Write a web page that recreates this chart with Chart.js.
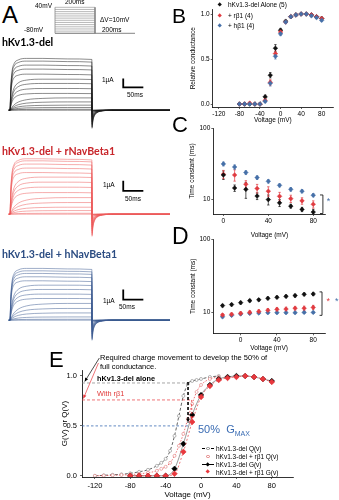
<!DOCTYPE html>
<html>
<head>
<meta charset="utf-8">
<title>hKv1.3-del with NavBeta1</title>
<script src="https://cdn.jsdelivr.net/npm/chart.js@4.4.1/dist/chart.umd.min.js"></script>
<style>
  body { margin: 0; background: #fff; }
  #fig { position: relative; width: 339px; height: 500px; overflow: hidden;
         font-family: "Liberation Sans", Arial, sans-serif; color: #000; }
  #fig canvas { position: absolute; }
  .t { position: absolute; white-space: nowrap; line-height: 1; }
  .head { font-family: Lato, "Open Sans", sans-serif; font-weight: 700; font-size: 10.6px; }
  .s { font-size: 6.5px; }
  .mk { position: absolute; width: 3.4px; height: 3.4px; transform: rotate(45deg); }
  .lg { position: absolute; left: 202px; width: 110px; height: 7px; font-size: 6.5px; line-height: 7px; white-space: nowrap; }
  .lg .ln { position: absolute; left: 0; width: 12px; top: 3px; height: 0; }
  .lg .o, .lg .d { position: absolute; left: 4.3px; top: 1.8px; width: 3.4px; height: 3.4px; box-sizing: border-box; }
  .lg .o { border-radius: 50%; border: 0.7px solid; background: #fff; }
  .lg .d { transform: rotate(45deg); }
  .lg .tx { position: absolute; left: 14px; top: 0; }
</style>
</head>
<body>
<div id="fig">
  <canvas id="proto" width="92" height="38" style="left:50px;top:0"></canvas>
  <canvas id="trAlone" width="170" height="95" style="left:0;top:45px"></canvas>
  <canvas id="trRb1" width="170" height="95" style="left:0;top:149px"></canvas>
  <canvas id="trHb1" width="170" height="95" style="left:0;top:255px"></canvas>
  <canvas id="gv" width="169" height="126" style="left:170px;top:0"></canvas>
  <canvas id="tauAct" width="169" height="128" style="left:170px;top:112px"></canvas>
  <canvas id="tauDeact" width="169" height="131" style="left:170px;top:222px"></canvas>
  <canvas id="gq" width="339" height="150" style="left:0;top:350px"></canvas>

  <!-- panel A -->
  <div class="t" style="left:2px;top:3px;font-size:24px">A</div>
  <div class="t s" style="left:35px;top:2.5px">40mV</div>
  <div class="t s" style="left:65px;top:-1px">200ms</div>
  <div class="t s" style="left:100px;top:17px">ΔV=10mV</div>
  <div class="t s" style="left:24px;top:27px">-80mV</div>
  <div class="t s" style="left:102px;top:27px">200ms</div>
  <div class="t head" style="left:2px;top:37px">hKv1.3-del</div>
  <div class="t s" style="left:102px;top:77px">1µA</div>
  <div class="t s" style="left:127px;top:92px">50ms</div>
  <div class="t head" style="left:2px;top:145.5px;color:#c8262b">hKv1.3-del + rNavBeta1</div>
  <div class="t s" style="left:103px;top:182px">1µA</div>
  <div class="t s" style="left:125px;top:196px">50ms</div>
  <div class="t head" style="left:2px;top:248.5px;color:#2b4c82">hKv1.3-del + hNavBeta1</div>
  <div class="t s" style="left:103px;top:298px">1µA</div>
  <div class="t s" style="left:119px;top:304px">50ms</div>

  <!-- panel B -->
  <div class="t" style="left:172px;top:5px;font-size:21px">B</div>
  <div class="mk" style="left:218.3px;top:3.3px;background:#111"></div>
  <div class="t s" style="left:228px;top:2px">hKv1.3-del Alone (5)</div>
  <div class="mk" style="left:218.3px;top:14.3px;background:#e03b40"></div>
  <div class="t s" style="left:228px;top:13px">+ rβ1 (4)</div>
  <div class="mk" style="left:218.3px;top:23.8px;background:#4670a8"></div>
  <div class="t s" style="left:228px;top:22.5px">+ hβ1 (4)</div>

  <div class="t" style="left:172px;top:114px;font-size:22px">C</div>
  <div class="t" style="left:172px;top:225px;font-size:23px">D</div>

  <!-- panel E -->
  <div class="t" style="left:49px;top:349px;font-size:22px">E</div>
  <div class="t" style="left:100px;top:354px;font-size:7.5px">Required charge movement to develop the 50% of</div>
  <div class="t" style="left:100px;top:363px;font-size:7.5px">full conductance.</div>
  <div class="t" style="left:97px;top:375px;font-size:7.3px;font-weight:bold">hKv1.3-del alone</div>
  <div class="t" style="left:97px;top:390px;font-size:7.3px;color:#e03a3a">With rβ1</div>
  <div class="t" style="left:198px;top:424px;font-size:11px;color:#3a6cb3">50%&nbsp; G<span style="font-size:7px;position:relative;top:3px">MAX</span></div>

  <div class="lg" style="top:445px"><span class="ln" style="border-top:0.8px dashed #000"></span><span class="o" style="border-color:#888"></span><span class="tx">hKv1.3-del Q(v)</span></div>
  <div class="lg" style="top:453px"><span class="o" style="border-color:#e07a7a"></span><span class="tx">hKv1.3-del + rβ1 Q(v)</span></div>
  <div class="lg" style="top:461px"><span class="ln" style="border-top:0.8px solid #000"></span><span class="d" style="background:#000"></span><span class="tx">hKv1.3-del G(v)</span></div>
  <div class="lg" style="top:468.5px"><span class="d" style="background:#e8383d"></span><span class="tx">hKv1.3-del + rβ1 G(v)</span></div>
</div>

<script>
// ---------- voltage protocol (mV, ms) ----------
const stepLevels = [-80, -70, -60, -50, -40, -30, -20, -10, 0, 10, 20, 30, 40];
const stepTime = [0, 200];
const holdTime = [0, 400];
const holdLevel = -80;

// ---------- current sweeps (µA vs ms) ----------
// activation time course, fraction of steady current; fast for strong steps, slow near threshold
const riseTime = [-3, 0, 2, 5, 10, 20, 40, 80, 140, 199.5];
const riseShapes = [
    [0, 0, 0.45, 0.75, 0.9, 0.97, 1.0, 1.0, 0.99, 0.98],
    [0, 0, 0.25, 0.5, 0.72, 0.88, 0.97, 1.0, 1.0, 0.99],
    [0, 0, 0.1, 0.25, 0.44, 0.66, 0.85, 0.96, 1.0, 1.0]
];
const sweepShape = [0, 0, 0, 0, 0, 1, 1, 1, 1, 2, 2, 2, 2, 2, 2];
const tailTime  = [200, 202, 206, 212, 220, 232, 250, 390];
const tailShape = [1, 0.6, 0.3, 0.14, 0.06, 0.02, 0, 0];

const aloneSteady = [5.56, 5.27, 4.84, 4.41, 3.87, 3.33, 2.87, 2.33, 1.8, 1.32, 0.89, 0.54, 0.29, 0.1, 0];
const aloneTail   = [1.94, 1.8, 1.62, 1.45, 1.26, 1.08, 0.9, 0.72, 0.54, 0.38, 0.24, 0.13, 0.06, 0.02, 0];
const rb1Steady   = [5.95, 5.73, 5.38, 4.95, 4.47, 3.98, 3.44, 2.9, 2.32, 1.78, 1.25, 0.75, 0.39, 0.1, 0];
const rb1Tail     = [2.37, 2.2, 2.0, 1.8, 1.6, 1.38, 1.16, 0.94, 0.72, 0.5, 0.32, 0.17, 0.07, 0.02, 0];
const hb1Steady   = [5.56, 5.3, 5.02, 4.66, 4.23, 3.76, 3.3, 2.8, 2.33, 1.8, 1.26, 0.78, 0.35, 0.1, 0];
const hb1Tail     = [2.15, 2.0, 1.85, 1.66, 1.46, 1.26, 1.06, 0.86, 0.66, 0.46, 0.3, 0.16, 0.06, 0.02, 0];

// scale bars: 1 µA / 50 ms
const barTime = [276, 276, 325];
const aloneBar = [3.4, 2.45, 2.45];
const rb1Bar = [3.58, 2.5, 2.5];
const hb1Bar = [3.3, 2.2, 2.2];

// ---------- B: relative conductance ----------
const bVolt = [-80, -70, -60, -50, -40, -30, -20, -10, 0, 10, 20, 30, 40, 50, 60, 70, 80];
const bAlone = [0, 0, 0, 0, 0, 0.08, 0.32, 0.62, 0.82, 0.92, 0.97, 0.99, 1.0, 1.0, 0.99, 0.97, 0.95];
const bAloneErr = [0.005, 0.005, 0.005, 0.005, 0.005, 0.02, 0.03, 0.04, 0.02, 0.01, 0.01, 0.01, 0.005, 0.005, 0.01, 0.01, 0.015];
const bRb1 = [0, 0, 0.01, 0, 0, 0.04, 0.24, 0.56, 0.8, 0.91, 0.97, 0.99, 1.0, 1.0, 0.99, 0.97, 0.95];
const bRb1Err = [0.005, 0.005, 0.01, 0.005, 0.005, 0.015, 0.03, 0.03, 0.02, 0.01, 0.01, 0.01, 0.005, 0.005, 0.01, 0.01, 0.015];
const bHb1 = [0, 0, 0, 0, 0, 0.03, 0.23, 0.53, 0.78, 0.91, 0.97, 0.99, 1.0, 1.0, 0.98, 0.96, 0.93];
const bHb1Err = [0.005, 0.005, 0.005, 0.005, 0.005, 0.015, 0.03, 0.03, 0.02, 0.01, 0.01, 0.01, 0.005, 0.005, 0.01, 0.01, 0.015];
const bXTicks = [-120, -80, -40, 0, 40, 80];
const bYTicks = [0, 0.5, 1.0];

// ---------- C: activation time constant (ms) ----------
const cVolt = [0, 10, 20, 30, 40, 50, 60, 70, 80];
const cAlone = [22, 14.4, 13.8, 11.1, 9.9, 8.9, 8.0, 7.2, 6.6];
const cAloneErr = [3, 1.5, 3.5, 1.2, 1.6, 1.0, 0.5, 0.5, 0.6];
const cRb1 = [22.5, 22, 16.3, 14.2, 13, 11, 10.2, 9.5, 8.5];
const cRb1Err = [3, 4, 2, 2, 2, 1.5, 1.2, 1, 1];
const cHb1 = [31.5, 28.5, 23.8, 20.2, 17.9, 15.7, 13.8, 13.0, 11.4];
const cHb1Err = [2, 2, 1.5, 1.2, 1, 0.8, 0.8, 0.7, 0.6];

// ---------- D: deactivation time constant (ms) ----------
const dVolt = [-20, -10, 0, 10, 20, 30, 40, 50, 60, 70, 80];
const dAlone = [12.5, 12.9, 13.7, 14.6, 15.0, 15.7, 16.2, 16.7, 17.1, 17.8, 18.0];
const dAloneErr = [0.5, 0.5, 0.6, 0.6, 0.6, 0.7, 0.7, 0.7, 0.8, 0.8, 0.9];
const dRb1 = [9.3, 9.5, 9.8, 10.1, 10.4, 10.8, 11.1, 11.2, 11.5, 11.5, 11.8];
const dRb1Err = [0.4, 0.4, 0.5, 0.5, 0.6, 0.6, 0.7, 0.7, 0.7, 0.8, 0.8];
const dHb1 = [8.8, 9.2, 9.6, 9.8, 9.9, 10.0, 10.0, 10.0, 10.0, 10.1, 10.1];
const dHb1Err = [0.3, 0.3, 0.3, 0.3, 0.3, 0.3, 0.3, 0.3, 0.3, 0.3, 0.3];
const tauXTicks = [0, 40, 80];
const tauYTicks = [10, 100];

// ---------- E: G(V) and Q(V) ----------
const eGVolt = [-80, -70, -60, -50, -40, -30, -20, -10, 0, 10, 20, 30, 40, 50, 60, 70, 80];
const eGAlone = [0, 0, 0, 0, 0, 0.07, 0.32, 0.61, 0.81, 0.91, 0.97, 0.99, 1.0, 1.0, 0.99, 0.97, 0.95];
const eGRb1 = [0, 0, 0, 0, 0, 0.02, 0.24, 0.54, 0.79, 0.9, 0.96, 0.98, 0.99, 1.0, 0.99, 0.97, 0.94];
const eQVolt = [-120, -110, -100, -90, -80, -70, -60, -50, -45, -40, -35, -30, -25, -20, -15, -10, -5, 0, 10, 20];
const eQAlone = [0, 0.005, 0.01, 0.015, 0.025, 0.04, 0.06, 0.1, 0.13, 0.17, 0.25, 0.4, 0.6, 0.8, 0.92, 0.95, 0.96, 0.97, 0.99, 1.0];
const eQRb1 = [0, 0.002, 0.005, 0.008, 0.012, 0.02, 0.03, 0.05, 0.07, 0.09, 0.13, 0.2, 0.3, 0.42, 0.57, 0.72, 0.84, 0.91, 0.97, 0.99];
const eXTicks = [-120, -80, -40, 0, 40, 80];
const eYTicks = [0, 0.5, 1.0];

const RED = '#e03b40', BLUE = '#4670a8', BLACK = '#111';

function pts(xs, ys) {
    return xs.map((x, i) => ({x: x, y: ys[i]}));
}

function sweep(steady, tail, shape) {
    const out = riseTime.map((t, i) => ({x: t, y: steady * shape[i]}));
    tailTime.forEach((t, i) => out.push({x: t, y: -tail * tailShape[i]}));
    return out;
}

// vertical error bars, drawn under the markers
const errorBars = {
    id: 'errorBars',
    beforeDatasetsDraw(chart) {
        const ctx = chart.ctx, ys = chart.scales.y;
        chart.data.datasets.forEach((ds, i) => {
            if (!ds.errors) return;
            const meta = chart.getDatasetMeta(i);
            ctx.save();
            ctx.strokeStyle = ds.pointBackgroundColor;
            ctx.lineWidth = 0.7;
            meta.data.forEach((el, j) => {
                const v = ds.data[j].y, e = ds.errors[j];
                if (!e) return;
                const top = ys.getPixelForValue(v + e);
                const bot = ys.getPixelForValue(Math.max(v - e, ys.min));
                ctx.beginPath();
                ctx.moveTo(el.x, top); ctx.lineTo(el.x, bot);
                ctx.moveTo(el.x - 1.2, top); ctx.lineTo(el.x + 1.2, top);
                ctx.moveTo(el.x - 1.2, bot); ctx.lineTo(el.x + 1.2, bot);
                ctx.stroke();
            });
            ctx.restore();
        });
    }
};

// brackets, guide lines, arrows and significance stars in data coordinates
function marks(lines, stars) {
    return {
        id: 'marks',
        afterDatasetsDraw(chart) {
            const ctx = chart.ctx, xs = chart.scales.x, ys = chart.scales.y;
            lines.forEach(m => {
                const p = m.x.map((x, k) => [xs.getPixelForValue(x), ys.getPixelForValue(m.y[k])]);
                ctx.save();
                ctx.strokeStyle = m.color;
                ctx.lineWidth = m.width || 0.8;
                ctx.setLineDash(m.dash || []);
                ctx.beginPath();
                p.forEach((q, k) => k ? ctx.lineTo(q[0], q[1]) : ctx.moveTo(q[0], q[1]));
                ctx.stroke();
                if (m.arrow) {
                    const a = p[p.length - 2], b = p[p.length - 1];
                    const ang = Math.atan2(b[1] - a[1], b[0] - a[0]), s = m.arrow;
                    ctx.setLineDash([]);
                    ctx.fillStyle = m.color;
                    ctx.beginPath();
                    ctx.moveTo(b[0], b[1]);
                    ctx.lineTo(b[0] - s * Math.cos(ang - 0.45), b[1] - s * Math.sin(ang - 0.45));
                    ctx.lineTo(b[0] - s * Math.cos(ang + 0.45), b[1] - s * Math.sin(ang + 0.45));
                    ctx.closePath();
                    ctx.fill();
                }
                ctx.restore();
            });
            (stars || []).forEach(s => {
                ctx.save();
                ctx.fillStyle = s.color;
                ctx.font = '9px "Liberation Sans"';
                ctx.textAlign = 'center';
                ctx.textBaseline = 'middle';
                ctx.fillText('*', xs.getPixelForValue(s.x), ys.getPixelForValue(s.y));
                ctx.restore();
            });
        }
    };
}

const baseOptions = {
    responsive: false,
    animation: false,
    events: [],
    plugins: {legend: {display: false}, tooltip: {enabled: false}}
};

function frameAxis(o) {
    const size = o.fontSize || 6.5;
    return {
        type: o.type || 'linear',
        min: o.min,
        max: o.max,
        afterBuildTicks: s => { s.ticks = o.ticks.map(v => ({value: v})); },
        afterFit: o.fit,
        grid: {drawOnChartArea: false, drawTicks: true, tickLength: 2, color: '#000', lineWidth: 0.6},
        border: {display: true, color: '#000', width: 0.8},
        ticks: {font: {family: 'Liberation Sans', size: size}, color: '#000', padding: o.pad || 1,
                maxRotation: 0, autoSkip: false, callback: o.format || (v => v)},
        title: {display: true, text: o.title, color: '#000',
                font: {family: 'Liberation Sans', size: o.titleSize || size},
                padding: o.titlePad}
    };
}

// ---------- A: protocol ----------
const protoSets = stepLevels.map(v => ({
    data: pts(stepTime, [v, v]), borderColor: '#8a8a8a', borderWidth: 0.6, pointRadius: 0
}));
protoSets.push({data: pts([0, 0], [holdLevel, 40]), borderColor: '#777', borderWidth: 0.7, pointRadius: 0});
protoSets.push({data: pts([200, 200], [40, holdLevel]), borderColor: '#777', borderWidth: 0.7, pointRadius: 0});
protoSets.push({data: pts(holdTime, [holdLevel, holdLevel]), borderColor: '#666', borderWidth: 0.8, pointRadius: 0});

new Chart(document.getElementById('proto'), {
    type: 'line',
    data: {datasets: protoSets},
    options: Object.assign({}, baseOptions, {
        layout: {padding: 0},
        scales: {
            x: {type: 'linear', display: false, min: -25, max: 435},
            y: {display: false, min: -101.7, max: 73.7}
        }
    })
});

// ---------- A: current sweeps ----------
function traceChart(id, steady, tail, color, bar) {
    const sets = steady.map((a, i) => ({
        data: sweep(a, tail[i], riseShapes[sweepShape[i]]),
        borderColor: color,
        borderWidth: 0.5,
        pointRadius: 0,
        cubicInterpolationMode: 'monotone'
    }));
    sets.push({data: pts(barTime, bar), borderColor: '#000', borderWidth: 1.8, pointRadius: 0, tension: 0});
    new Chart(document.getElementById(id), {
        type: 'line',
        data: {datasets: sets},
        options: Object.assign({}, baseOptions, {
            layout: {padding: 0},
            scales: {
                x: {type: 'linear', display: false, min: -24.4, max: 390},
                y: {display: false, min: -3.2, max: 7.0}
            }
        })
    });
}

traceChart('trAlone', aloneSteady, aloneTail, '#1a1a1a', aloneBar);
traceChart('trRb1', rb1Steady, rb1Tail, '#ec5a5a', rb1Bar);
traceChart('trHb1', hb1Steady, hb1Tail, '#3d5b90', hb1Bar);

// ---------- B ----------
function markerSet(xs, ys, err, color, order, r) {
    return {
        data: pts(xs, ys), errors: err, order: order,
        pointStyle: 'rectRot', pointRadius: r || 2.3,
        pointBackgroundColor: color, pointBorderColor: color, pointBorderWidth: 0.5,
        borderColor: color, showLine: false
    };
}

new Chart(document.getElementById('gv'), {
    type: 'scatter',
    data: {datasets: [
        markerSet(bVolt, bHb1, bHb1Err, BLUE, 1),
        markerSet(bVolt, bRb1, bRb1Err, RED, 2),
        markerSet(bVolt, bAlone, bAloneErr, BLACK, 3)
    ]},
    options: Object.assign({}, baseOptions, {
        layout: {padding: {left: 0, right: 6, top: 9.5, bottom: 0}},
        scales: {
            x: frameAxis({min: -132, max: 102, ticks: bXTicks, fit: s => { s.height = 19; },
                          title: 'Voltage (mV)', titlePad: {top: 0, bottom: 1.6}}),
            y: frameAxis({min: -0.033, max: 1.05, ticks: bYTicks, fit: s => { s.width = 42.7; },
                          format: v => v.toFixed(1),
                          title: 'Relative conductance', titlePad: {top: 19, bottom: 0}})
        }
    }),
    plugins: [errorBars]
});

// ---------- C ----------
const cBracketX = [86, 88.6, 88.6, 86];
const cBracketY = [11.5, 11.5, 6.3, 6.3];

new Chart(document.getElementById('tauAct'), {
    type: 'scatter',
    data: {datasets: [
        markerSet(cVolt, cAlone, cAloneErr, BLACK, 1),
        markerSet(cVolt, cRb1, cRb1Err, RED, 2),
        markerSet(cVolt, cHb1, cHb1Err, BLUE, 3)
    ]},
    options: Object.assign({}, baseOptions, {
        layout: {padding: {left: 0, right: 13.4, top: 16.3, bottom: 0}},
        scales: {
            x: frameAxis({min: -9, max: 91, ticks: tauXTicks, fit: s => { s.height = 26; },
                          title: 'Voltage (mV)', titlePad: {top: 0, bottom: 1.1}}),
            y: frameAxis({type: 'logarithmic', min: 6.2, max: 100, ticks: tauYTicks,
                          fit: s => { s.width = 43.3; },
                          title: 'Time constant (ms)', titlePad: {top: 18, bottom: 0}})
        }
    }),
    plugins: [errorBars, marks(
        [{x: cBracketX, y: cBracketY, color: '#000', width: 0.8}],
        [{x: 93.5, y: 9.3, color: BLUE}]
    )]
});

// ---------- D ----------
const dBracketX = [87, 89.7, 89.7, 87];
const dBracketY = [19.2, 19.2, 9.2, 9.2];

new Chart(document.getElementById('tauDeact'), {
    type: 'scatter',
    data: {datasets: [
        markerSet(dVolt, dAlone, dAloneErr, BLACK, 1),
        markerSet(dVolt, dRb1, dRb1Err, RED, 2),
        markerSet(dVolt, dHb1, dHb1Err, BLUE, 3)
    ]},
    options: Object.assign({}, baseOptions, {
        layout: {padding: {left: 0, right: 14, top: 17.3, bottom: 0}},
        scales: {
            x: frameAxis({min: -30.2, max: 93, ticks: tauXTicks, fit: s => { s.height = 19.7; },
                          title: 'Voltage (mV)', titlePad: {top: 0, bottom: 0.6}}),
            y: frameAxis({type: 'logarithmic', min: 5.24, max: 100, ticks: tauYTicks,
                          fit: s => { s.width = 43.3; },
                          title: 'Time constant (ms)', titlePad: {top: 19, bottom: 0}})
        }
    }),
    plugins: [errorBars, marks(
        [{x: dBracketX, y: dBracketY, color: '#000', width: 0.8}],
        [{x: 96.5, y: 14.1, color: RED}, {x: 106, y: 14.1, color: BLUE}]
    )]
});

// ---------- E ----------
const eGuides = [
    {x: [-134.6, -14.7], y: [0.93, 0.93], color: '#808080', width: 0.7, dash: [3, 2]},
    {x: [-134.6, -10.5], y: [0.76, 0.76], color: '#e8383d', width: 0.7, dash: [3, 2]},
    {x: [-134.6, -12], y: [0.5, 0.5], color: '#3a6cb3', width: 0.8, dash: [2.5, 2]},
    {x: [-14.7, -14.7], y: [0.94, 0.535], color: '#000', width: 1.6, dash: [3, 2], arrow: 4},
    {x: [-10.5, -10.5], y: [0.76, 0.56], color: '#e8383d', width: 0.9, dash: [2, 2], arrow: 3.5},
    {x: [-115, -131.5], y: [1.18, 0.945], color: '#000', width: 0.7, arrow: 4},
    {x: [-116, -133], y: [1.13, 0.775], color: '#e8383d', width: 0.7, arrow: 4}
];

new Chart(document.getElementById('gq'), {
    type: 'scatter',
    data: {datasets: [
        {data: pts(eGVolt, eGRb1), order: 1, showLine: true, borderColor: '#e8383d', borderWidth: 0.7,
         borderDash: [2, 2], cubicInterpolationMode: 'monotone',
         pointStyle: 'rectRot', pointRadius: 2.8, pointBackgroundColor: '#e8383d', pointBorderColor: '#e8383d'},
        {data: pts(eGVolt, eGAlone), order: 2, showLine: true, borderColor: '#333', borderWidth: 0.5,
         cubicInterpolationMode: 'monotone',
         pointStyle: 'rectRot', pointRadius: 2.8, pointBackgroundColor: '#000', pointBorderColor: '#000'},
        {data: pts(eQVolt, eQRb1), order: 3, showLine: true, borderColor: '#e8383d', borderWidth: 0.7,
         borderDash: [1.5, 1.5], cubicInterpolationMode: 'monotone',
         pointStyle: 'circle', pointRadius: 1.5, pointBackgroundColor: '#fff', pointBorderColor: '#e07a7a', pointBorderWidth: 0.6},
        {data: pts(eQVolt, eQAlone), order: 4, showLine: true, borderColor: '#222', borderWidth: 0.7,
         borderDash: [3, 2], cubicInterpolationMode: 'monotone',
         pointStyle: 'circle', pointRadius: 1.5, pointBackgroundColor: '#fff', pointBorderColor: '#888', pointBorderWidth: 0.6}
    ]},
    options: Object.assign({}, baseOptions, {
        layout: {padding: {left: 0, right: 46, top: 20, bottom: 0}},
        scales: {
            x: frameAxis({min: -134.6, max: 104, ticks: eXTicks, fit: s => { s.height = 23; },
                          fontSize: 7.5, titleSize: 8, pad: 2,
                          title: 'Voltage (mV)', titlePad: {top: 0, bottom: 0}}),
            y: frameAxis({min: -0.012, max: 1.06, ticks: eYTicks, fit: s => { s.width = 82; },
                          fontSize: 7.5, titleSize: 8, pad: 3, format: v => v.toFixed(1),
                          title: 'G(V) or Q(V)', titlePad: {top: 60, bottom: 0}})
        }
    }),
    plugins: [marks(eGuides, [])]
});
</script>
</body>
</html>
